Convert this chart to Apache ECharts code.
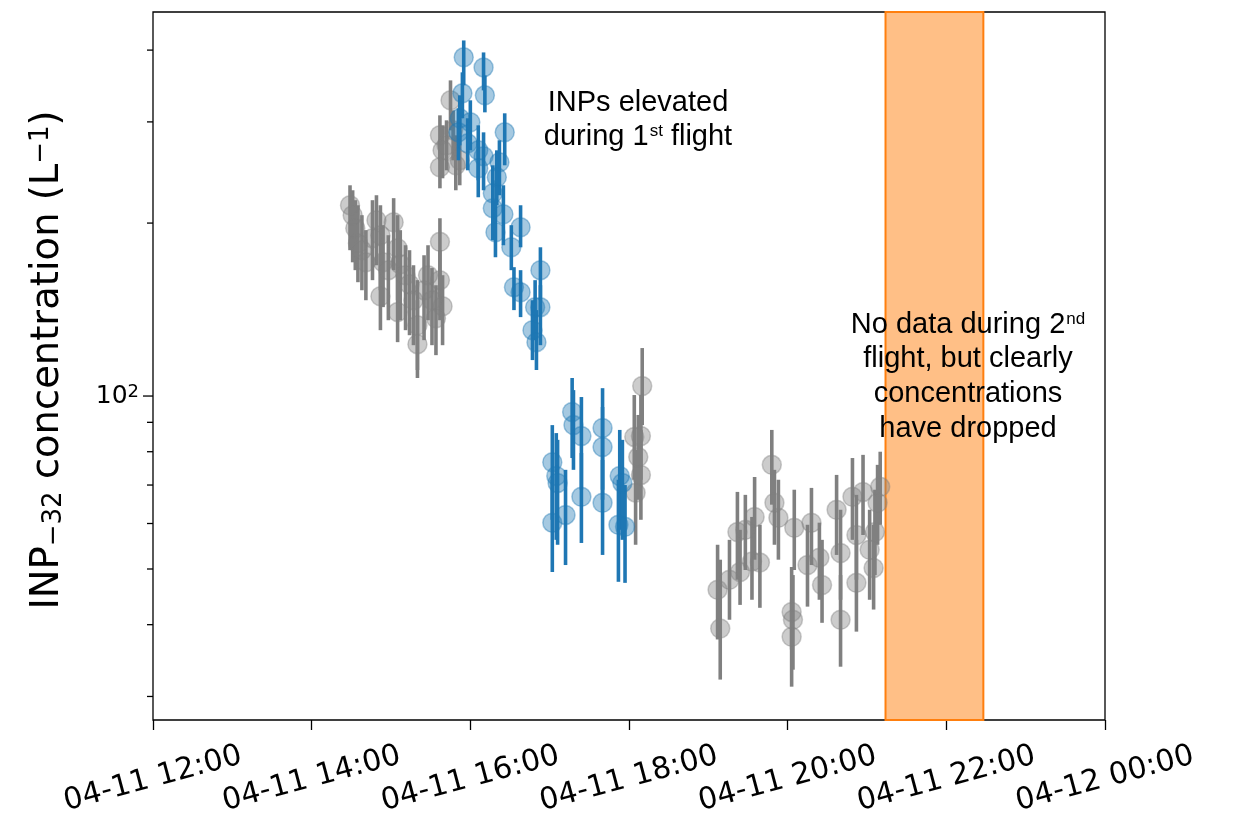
<!DOCTYPE html>
<html>
<head>
<meta charset="utf-8">
<script src="https://cdn.jsdelivr.net/npm/echarts@6/dist/echarts.min.js"></script>
<style>html,body{margin:0;padding:0;background:#fff}#chart{width:1233px;height:815px}</style>
</head>
<body>
<div id="chart"></div>
<script>
// ---------- data ----------
const xRange = ['2023-04-11 12:00', '2023-04-12 00:00'];
const yRange = [27.3, 466];
const yTickValues = [30, 40, 50, 60, 70, 80, 90, 100, 200, 300, 400];
const flightSpan = ['2023-04-11 21:14', '2023-04-11 22:28'];

// grey: outside flight
const grayTime = [
 '2023-04-11 14:29','2023-04-11 14:31','2023-04-11 14:33','2023-04-11 14:35','2023-04-11 14:38','2023-04-11 14:41','2023-04-11 14:46','2023-04-11 14:49','2023-04-11 14:52','2023-04-11 14:54',
 '2023-04-11 14:52','2023-04-11 14:58','2023-04-11 15:02','2023-04-11 15:05','2023-04-11 15:07','2023-04-11 15:05','2023-04-11 15:11','2023-04-11 15:14','2023-04-11 15:17','2023-04-11 15:20',
 '2023-04-11 15:20','2023-04-11 15:25','2023-04-11 15:28','2023-04-11 15:31','2023-04-11 15:34','2023-04-11 15:37','2023-04-11 15:37','2023-04-11 15:39',
 '2023-04-11 15:37','2023-04-11 15:39','2023-04-11 15:37','2023-04-11 15:42','2023-04-11 15:45','2023-04-11 15:47','2023-04-11 15:49','2023-04-11 15:52',
 '2023-04-11 18:10','2023-04-11 18:04','2023-04-11 18:09','2023-04-11 18:07','2023-04-11 18:09','2023-04-11 18:05',
 '2023-04-11 19:07','2023-04-11 19:09','2023-04-11 19:16','2023-04-11 19:22','2023-04-11 19:24','2023-04-11 19:28','2023-04-11 19:33','2023-04-11 19:35','2023-04-11 19:39','2023-04-11 19:48',
 '2023-04-11 19:50','2023-04-11 19:53','2023-04-11 20:05','2023-04-11 20:03','2023-04-11 20:04','2023-04-11 20:03','2023-04-11 20:18','2023-04-11 20:15','2023-04-11 20:26','2023-04-11 20:24',
 '2023-04-11 20:37','2023-04-11 20:40','2023-04-11 20:40','2023-04-11 20:49','2023-04-11 20:52','2023-04-11 20:52','2023-04-11 20:57','2023-04-11 21:02','2023-04-11 21:05','2023-04-11 21:06',
 '2023-04-11 21:08','2023-04-11 21:10'
];
const grayValue = [
 214.8,206.4,195.9,184.5,179.4,170.9,188.2,202.3,190.5,170.9,
 149.2,165.6,200.7,180.8,169.6,140.0,162.3,156.5,146.8,132.8,
 123.1,152.8,162.3,146.8,136.6,185.5,159.1,143.3,
 284.3,267.7,250.1,273.1,327.1,290.0,252.1,257.2,
 104.1,84.9,85.2,78.3,72.9,67.9,
 46.0,39.4,47.9,58.0,49.4,58.5,51.5,61.6,51.3,75.9,
 65.2,61.4,59.0,42.1,40.8,38.1,60.2,50.8,46.9,52.3,
 63.4,53.3,40.8,66.8,57.3,47.3,68.1,54.0,50.2,58.0,
 65.2,69.5
];
const grayLow = [
 179.4,170.9,165.6,157.8,152.8,146.8,159.1,168.9,152.8,142.8,
 130.2,135.5,165.6,146.8,135.5,124.1,130.2,127.6,122.6,111.0,
 107.5,125.1,135.5,122.6,117.8,148.6,135.5,122.6,
 257.2,239.3,229.9,247.1,290.0,257.2,228.1,232.7,
 89.0,71.5,71.5,66.0,60.9,55.1,
 37.7,32.1,40.8,47.9,43.3,49.8,44.2,51.9,42.8,64.7,
 55.1,51.9,49.8,36.2,33.4,31.2,50.8,43.0,40.3,44.2,
 52.9,44.2,33.8,56.2,47.9,38.9,57.3,44.2,42.5,48.8,
 55.1,59.7
];
const grayHigh = [
 232.7,228.1,219.2,214.8,206.4,194.4,219.2,223.6,214.8,198.3,
 175.8,190.5,221.0,206.4,194.4,165.6,183.0,179.4,168.9,159.1,
 146.8,175.8,183.0,167.0,155.9,203.9,179.4,162.3,
 308.0,295.9,278.7,301.9,354.3,314.2,284.3,290.0,
 121.2,100.4,100.4,92.7,87.3,80.6,
 55.1,51.9,56.2,68.1,58.5,67.3,61.6,72.3,59.7,87.3,
 74.4,71.5,68.7,50.4,48.8,44.2,69.2,59.7,56.2,60.2,
 72.9,63.4,48.8,78.0,67.3,56.2,79.0,63.4,59.7,68.7,
 75.9,80.0
];

// blue: during flight
const blueTime = [
 '2023-04-11 15:55','2023-04-11 16:10','2023-04-11 15:54','2023-04-11 16:11','2023-04-11 15:52','2023-04-11 16:00','2023-04-11 15:51','2023-04-11 15:58','2023-04-11 16:06','2023-04-11 16:10',
 '2023-04-11 16:06','2023-04-11 16:26','2023-04-11 16:22','2023-04-11 16:20','2023-04-11 16:17','2023-04-11 16:17','2023-04-11 16:25','2023-04-11 16:19','2023-04-11 16:38','2023-04-11 16:31',
 '2023-04-11 16:53','2023-04-11 16:33','2023-04-11 16:38','2023-04-11 16:49','2023-04-11 16:53','2023-04-11 16:47','2023-04-11 16:50',
 '2023-04-11 17:02','2023-04-11 17:05','2023-04-11 17:06','2023-04-11 17:02','2023-04-11 17:12','2023-04-11 17:17','2023-04-11 17:18','2023-04-11 17:24','2023-04-11 17:24','2023-04-11 17:40',
 '2023-04-11 17:40','2023-04-11 17:40','2023-04-11 17:53','2023-04-11 17:55','2023-04-11 17:52','2023-04-11 17:57'
];
const blueValue = [
 388.6,373.2,336.4,333.7,304.4,299.5,287.7,275.3,267.7,261.3,
 249.1,287.7,255.2,240.3,225.4,212.3,207.2,192.8,196.7,181.5,
 165.6,154.7,151.6,142.8,142.8,130.2,124.1,
 76.7,72.6,70.6,60.2,62.1,93.8,89.0,85.2,66.8,88.0,
 81.5,65.2,72.6,70.6,59.7,59.2
];
const blueLow = [
 347.3,340.4,304.4,311.7,273.1,267.7,257.2,247.1,237.4,228.1,
 221.8,252.1,223.6,214.8,198.3,186.7,183.0,174.4,181.5,165.6,
 146.8,141.1,137.2,125.1,122.6,115.5,111.0,
 60.9,56.2,55.1,49.4,50.8,78.0,74.4,68.7,55.5,68.7,
 66.0,52.9,58.5,56.2,47.5,47.3
];
const blueHigh = [
 415.8,396.3,365.9,361.5,333.7,327.1,316.8,304.4,295.9,287.7,
 278.7,310.5,278.7,267.7,252.1,237.4,232.7,219.2,214.8,198.3,
 181.5,167.6,165.6,159.1,155.9,146.8,141.1,
 89.0,86.2,83.9,71.5,74.4,107.5,102.4,99.6,79.6,103.2,
 95.7,77.4,87.3,83.9,71.5,70.0
];

// ---------- chart ----------
const GRAY = '#808080', BLUE = '#1f77b4';
const pad = n => (n < 10 ? '0' : '') + n;
function fmtTime(v) {
  const d = new Date(v);
  return pad(d.getMonth() + 1) + '-' + pad(d.getDate()) + ' ' + pad(d.getHours()) + ':' + pad(d.getMinutes());
}
function errRender(color) {
  return function (params, api) {
    const x = api.value(0);
    const p1 = api.coord([x, api.value(1)]);
    const p2 = api.coord([x, api.value(2)]);
    return { type: 'line', shape: { x1: p1[0], y1: p1[1], x2: p2[0], y2: p2[1] },
             style: { stroke: color, lineWidth: 3.6 } };
  };
}
function tickRender(params, api) {
  const v = api.value(1);
  const p = api.coord([api.value(0), v]);
  const len = Math.abs(Math.log10(v) - 2) < 1e-6 ? 10 : 6;
  return { type: 'line', shape: { x1: p[0] - len, y1: p[1], x2: p[0], y2: p[1] },
           style: { stroke: '#000', lineWidth: 1.3 } };
}

const chart = echarts.init(document.getElementById('chart'), null, { renderer: 'canvas' });
const FONT_T = '"Liberation Sans", Arial, sans-serif';
const annot = (x, y, text) => ({
  type: 'text', x: x, y: y, z: 100,
  style: { text: text, fontFamily: FONT_T, fontSize: 29, fill: '#000', align: 'center', verticalAlign: 'middle',
           rich: { sup: { fontFamily: FONT_T, fontSize: 17, fill: '#000', verticalAlign: 'top', padding: [0, 0, 0, 1] } } }
});

chart.setOption({
  animation: false,
  backgroundColor: '#fff',
  grid: { left: 153, right: 128, top: 12, bottom: 95, show: true, borderColor: '#000', borderWidth: 1.3,
          backgroundColor: 'transparent', outerBoundsMode: 'none', containLabel: false },
  xAxis: {
    type: 'time', min: xRange[0], max: xRange[1],
    splitNumber: 5, minInterval: 8640000, maxInterval: 8640000,
    axisLine: { show: false },
    axisTick: { show: true, length: 10, lineStyle: { color: '#000', width: 1.3 } },
    minorTick: { show: false },
    splitLine: { show: false },
    axisLabel: { interval: 0, rotate: 15, align: 'center', verticalAlign: 'middle', margin: 59,
                 fontFamily: 'DejaVu Sans', fontSize: 30, color: '#000',
                 showMinLabel: true, showMaxLabel: true, hideOverlap: false, formatter: fmtTime }
  },
  yAxis: {
    type: 'log', logBase: 10, min: yRange[0], max: yRange[1],
    axisLine: { show: false }, axisTick: { show: false }, minorTick: { show: false }, splitLine: { show: false },
    axisLabel: {
      margin: 14, showMinLabel: false, showMaxLabel: false,
      formatter: v => (Math.abs(Math.log10(v) - 2) < 1e-6 ? '{b|10}{s|2}' : ''),
      rich: { b: { fontFamily: 'DejaVu Sans', fontSize: 25, color: '#000' },
              s: { fontFamily: 'DejaVu Sans', fontSize: 18, color: '#000', verticalAlign: 'top' } }
    }
  },
  graphic: [
    { type: 'text', x: 48, y: 360, rotation: Math.PI / 2, z: 100,
      style: { text: 'INP{sub|−32} concentration (L{sup|−1})', fontFamily: 'DejaVu Sans', fontSize: 38.5, fill: '#000',
               align: 'center', verticalAlign: 'middle',
               rich: { sub: { fontFamily: 'DejaVu Sans', fontSize: 26, fill: '#000', verticalAlign: 'bottom' },
                       sup: { fontFamily: 'DejaVu Sans', fontSize: 26, fill: '#000', verticalAlign: 'top' } } } },
    annot(638, 103, 'INPs elevated'),
    annot(638, 137, 'during 1{sup|st} flight'),
    annot(968, 325, 'No data during 2{sup|nd}'),
    annot(968, 359, 'flight, but clearly'),
    annot(968, 394, 'concentrations'),
    annot(968, 429, 'have dropped')
  ],
  series: [
    { type: 'scatter', data: [], z: 1, silent: true,
      markArea: { silent: true, itemStyle: { color: 'rgba(255,127,14,0.5)', borderColor: '#ff7f0e', borderWidth: 2 },
                  data: [[{ xAxis: flightSpan[0] }, { xAxis: flightSpan[1] }]] } },
    { type: 'custom', name: 'grayErr', renderItem: errRender(GRAY), encode: { x: 0, y: [1, 2] }, z: 2, silent: true,
      data: grayTime.map((t, i) => [t, grayLow[i], grayHigh[i]]) },
    { type: 'scatter', name: 'gray', symbol: 'circle', symbolSize: 19, z: 3, silent: true,
      itemStyle: { color: 'rgba(128,128,128,0.5)', borderColor: 'rgba(128,128,128,0.5)', borderWidth: 1.5 },
      data: grayTime.map((t, i) => [t, grayValue[i]]) },
    { type: 'custom', name: 'blueErr', renderItem: errRender(BLUE), encode: { x: 0, y: [1, 2] }, z: 4, silent: true,
      data: blueTime.map((t, i) => [t, blueLow[i], blueHigh[i]]) },
    { type: 'scatter', name: 'blue', symbol: 'circle', symbolSize: 19, z: 5, silent: true,
      itemStyle: { color: 'rgba(31,119,180,0.5)', borderColor: 'rgba(31,119,180,0.5)', borderWidth: 1.5 },
      data: blueTime.map((t, i) => [t, blueValue[i]]) },
    { type: 'custom', name: 'yTicks', renderItem: tickRender, encode: { x: 0, y: 1 }, z: 10, silent: true, clip: false,
      data: yTickValues.map(v => [xRange[0], v]) }
  ]
});
</script>
</body>
</html>
